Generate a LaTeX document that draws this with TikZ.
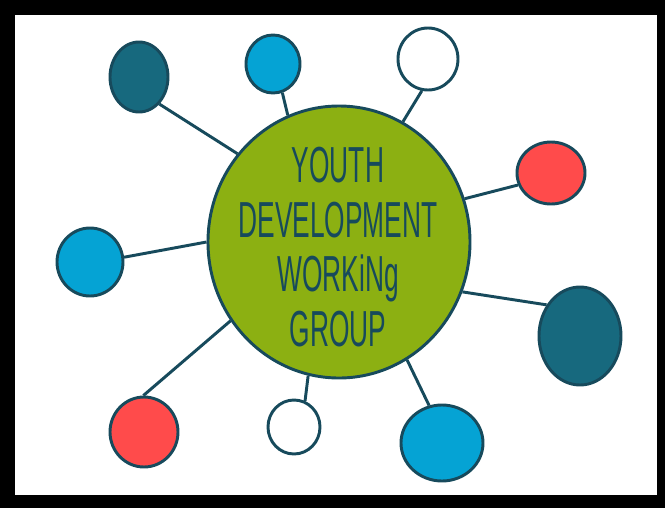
\documentclass[tikz,border=0pt]{standalone}
\usepackage{fontspec}
\usepackage{tikz}
\usetikzlibrary{shapes}
\newfontfamily\handfont[FakeStretch=0.52]{Liberation Sans}

\definecolor{hubgreen}{HTML}{8CB012}
\definecolor{inkblue}{HTML}{174A5C}
\definecolor{deepteal}{HTML}{17697E}
\definecolor{skyblue}{HTML}{05A3D4}
\definecolor{coral}{HTML}{FF4B4B}

\tikzset{
  bubble/.style={ellipse,draw=inkblue,line width=2.2pt,inner sep=0pt},
  spoke/.style={draw=inkblue,line width=2.2pt}
}

\begin{document}
\begin{tikzpicture}[x=0.75pt,y=-0.75pt]
\useasboundingbox (0,0) rectangle (665,508);
\fill[black] (0,0) rectangle (665,508);
\fill[white] (15,15) rectangle (657,495);

% the group in the middle
\node[bubble,fill=hubgreen,minimum width=196.5pt,minimum height=204pt] (hub) at (339,242) {};
\node[text=inkblue,align=center,font=\handfont\fontsize{38}{41}\selectfont] (title) at (338,247)
  {YOUTH\\DEVELOPMENT\\WORKiNg\\GROUP};

% members round it
\node[bubble,fill=deepteal,minimum width=43.5pt,minimum height=52.5pt] (tealA) at (139,77) {};
\node[bubble,fill=skyblue,minimum width=40.5pt,minimum height=43.5pt] (blueA) at (273,64) {};
\node[bubble,fill=white,minimum width=45pt,minimum height=46.5pt] (whiteA) at (428,59) {};
\node[bubble,fill=coral,minimum width=51pt,minimum height=46.5pt] (redA) at (551,173) {};
\node[bubble,fill=skyblue,minimum width=49.5pt,minimum height=51pt] (blueB) at (90,262) {};
\node[bubble,fill=deepteal,minimum width=61.5pt,minimum height=73.5pt] (tealB) at (580,336) {};
\node[bubble,fill=coral,minimum width=51pt,minimum height=52.5pt] (redB) at (144,432) {};
\node[bubble,fill=white,minimum width=39pt,minimum height=40.5pt] (whiteB) at (294,427) {};
\node[bubble,fill=skyblue,minimum width=61.5pt,minimum height=57pt] (blueC) at (442,443) {};

% spokes
\draw[spoke] (hub.139.9) -- (tealA.-53.8);
\draw[spoke] (hub.112.2) -- (blueA.-72.8);
\draw[spoke] (hub.62.3) -- (whiteA.-101);
\draw[spoke] (hub.19.2) -- (redA.200);
\draw[spoke] (hub.180) -- (blueB.8.6);
\draw[spoke] (hub.-22) -- (tealB.137);
\draw[spoke] (hub.216.8) -- (redB.91.6);
\draw[spoke] (hub.257.9) -- (whiteB.67);
\draw[spoke] (hub.-60.8) -- (blueC.109);

\end{tikzpicture}
\end{document}
